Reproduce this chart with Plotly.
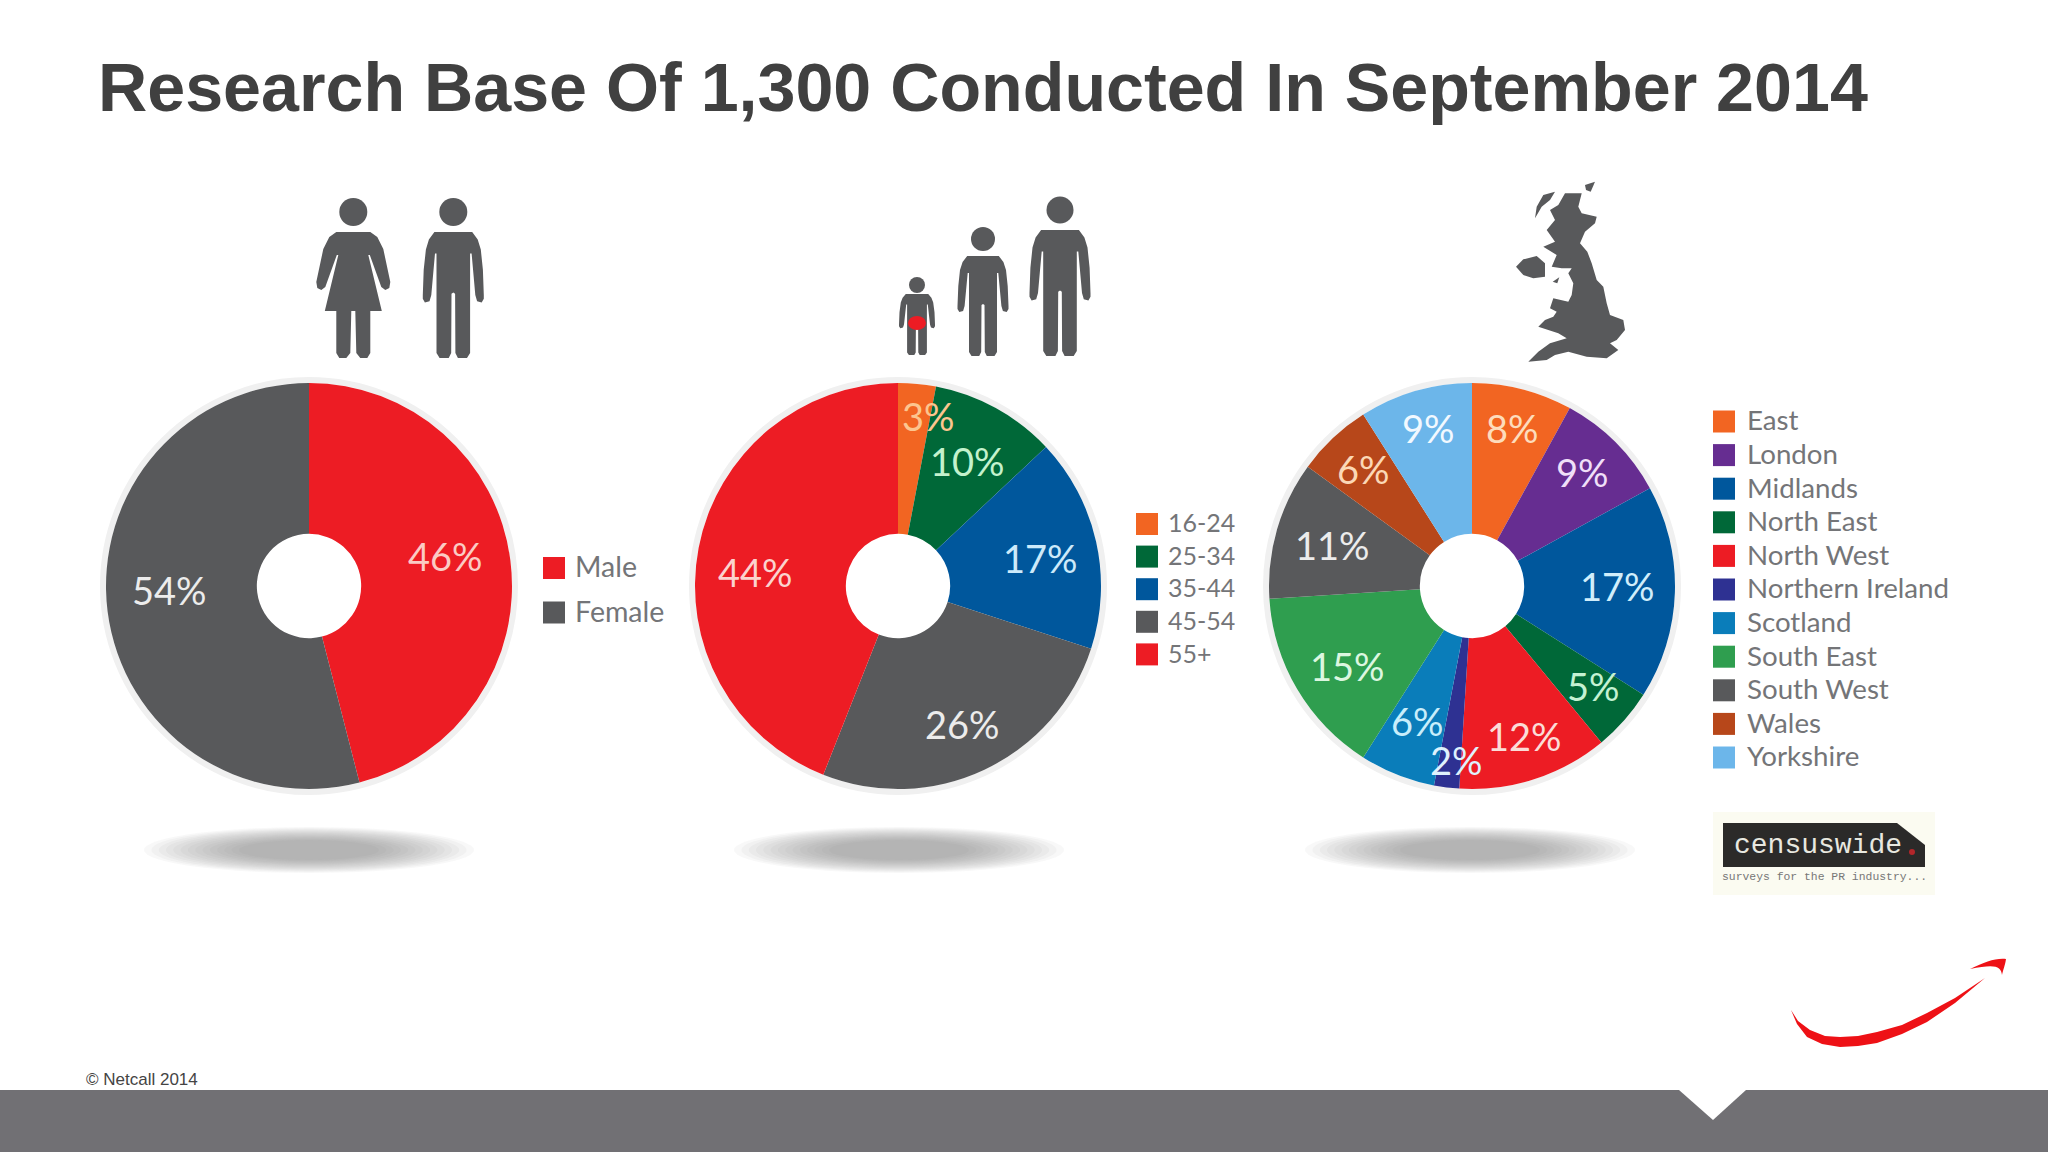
import plotly.graph_objects as go

gender_names = ["Male", "Female"]
gender_values = [46, 54]
gender_colors = ["#ed1c24", "#58595b"]

age_names = ["16-24", "25-34", "35-44", "45-54", "55+"]
age_values = [3, 10, 17, 26, 44]
age_colors = ["#f26522", "#006838", "#00579c", "#58595b", "#ed1c24"]

region_names = ["East", "London", "Midlands", "North East", "North West", "Northern Ireland",
                "Scotland", "South East", "South West", "Wales", "Yorkshire"]
region_values = [8, 9, 17, 5, 12, 2, 6, 15, 11, 6, 9]
region_colors = ["#f26522", "#662d91", "#00579c", "#006838", "#ed1c24", "#2e3192",
                 "#0a7dba", "#2f9e4f", "#58595b", "#b7471a", "#6cb6ea"]

# label placement and tint, one list per pie
gender_lab_x = [445, 169]
gender_lab_y = [556, 590]
gender_lab_col = ["#fbcbc4", "#ececec"]
age_lab_x = [928, 967, 1040, 962, 755]
age_lab_y = [416, 461, 558, 724, 572]
age_lab_col = ["#fcc58f", "#c4f2cd", "#cdeafa", "#ececec", "#fbd3ce"]
region_lab_x = [1512, 1582, 1617, 1593, 1524, 1456, 1417, 1347, 1332, 1363, 1428]
region_lab_y = [428, 472, 586, 686, 736, 760, 721, 666, 545, 469, 428]
region_lab_col = ["#fddcbc", "#efdff8", "#d0eefb", "#c4f2d3", "#fbdcd7", "#dff1fd",
                  "#c8eefb", "#dcf7e0", "#ececec", "#fbd8b6", "#f2f9ff"]

TITLE = "Research Base Of 1,300 Conducted In September 2014"
FOOT = "© Netcall 2014"
GREY = "#58595b"
LEG_TXT = "#747578"
R = 203
CY = 586
HOLE = 0.257

fig = go.Figure()


def add_pie(cx, names, values, colors):
    fig.add_trace(go.Pie(labels=names, values=values, sort=False, direction="clockwise",
                         rotation=0, hole=HOLE, textinfo="none", showlegend=False,
                         marker=dict(colors=colors, line=dict(width=0)),
                         domain=dict(x=[(cx - R) / 2048, (cx + R) / 2048],
                                     y=[1 - (CY + R) / 1152, 1 - (CY - R) / 1152])))
    # pale ring round the pie
    fig.add_shape(type="circle", xref="x", yref="y", x0=cx - R - 3, x1=cx + R + 3,
                  y0=CY - R - 3, y1=CY + R + 3, line=dict(color="#f0f0f0", width=6),
                  fillcolor="rgba(0,0,0,0)", layer="below")


def add_legend(sw_x, txt_x, y0, step, names, colors, font_size, size=22):
    ys = [y0 + i * step for i in range(len(names))]
    fig.add_trace(go.Scatter(x=[sw_x] * len(names), y=ys, mode="markers", showlegend=False,
                             marker=dict(symbol="square", size=size, color=colors, line=dict(width=0))))
    fig.add_trace(go.Scatter(x=[txt_x] * len(names), y=[y + 2 for y in ys], mode="text", text=names,
                             textposition="middle right", showlegend=False,
                             textfont=dict(family="Lato", size=font_size, color=LEG_TXT)))


def add_labels(xs, ys, values, cols):
    for x, y, v, c in zip(xs, ys, values, cols):
        fig.add_annotation(x=x, y=y, xref="x", yref="y", text=f"{v}%", showarrow=False,
                           xanchor="center", yanchor="middle",
                           font=dict(family="Lato", size=38, color=c))


def add_shadow(cx, cy=850):
    for i in range(14):
        t = i / 13
        rx = 165 - 95 * t
        ry = 23 - 13 * t
        fig.add_shape(type="circle", xref="x", yref="y", x0=cx - rx, x1=cx + rx, y0=cy - ry, y1=cy + ry,
                      fillcolor="#7c7c7c", opacity=0.05, line=dict(width=0), layer="below")


def path_of(points):
    return "M" + " L".join(f"{x:.1f},{y:.1f}" for x, y in points) + " Z"


def add_path(path, color):
    fig.add_shape(type="path", xref="x", yref="y", path=path, fillcolor=color,
                  line=dict(width=0), layer="below")


def add_head(cx, cy, r):
    fig.add_shape(type="circle", xref="x", yref="y", x0=cx - r, x1=cx + r, y0=cy - r, y1=cy + r,
                  fillcolor=GREY, line=dict(width=0), layer="below")


# right half of a standing figure, x in half widths, y in body heights
MAN = [(0.0, 0.0), (0.62, 0.0), (0.8, 0.06), (0.9, 0.14), (0.97, 0.3), (1.0, 0.5), (1.0, 0.53), (0.93, 0.56),
       (0.78, 0.55), (0.72, 0.5), (0.6, 0.17), (0.55, 0.17), (0.55, 0.96), (0.45, 1.0), (0.15, 1.0),
       (0.07, 0.96), (0.06, 0.49), (0.0, 0.48)]


def add_man(cx, top, h, hw, head_y, head_r):
    right = [(cx + x * hw, top + y * h) for x, y in MAN]
    left = [(cx - x * hw, top + y * h) for x, y in reversed(MAN)]
    add_path(path_of(right + left), GREY)
    add_head(cx, head_y, head_r)


def add_woman():
    cx = 353.3
    pts = [(17, 232), (24, 237), (30, 249), (37, 282), (36, 288), (32, 290), (28, 287), (16.5, 255), (15, 255),
           (28.5, 311), (17, 311), (17, 353), (14, 358), (7, 358), (3, 353), (2, 311)]
    right = [(cx + x, y) for x, y in pts]
    left = [(cx - x, y) for x, y in reversed(pts)]
    add_path(path_of(right + left), GREY)
    add_head(cx, 212, 14)


GB = [(195, 70), (245, 70), (235, 110), (245, 130), (290, 140), (285, 160), (255, 185), (240, 220), (262, 245),
      (275, 280), (290, 330), (310, 350), (320, 400), (330, 435), (370, 450), (375, 480), (350, 510), (330, 520),
      (355, 540), (320, 565), (260, 560), (205, 545), (165, 555), (140, 570), (85, 575), (115, 545), (150, 520),
      (200, 505), (175, 490), (115, 470), (135, 450), (160, 440), (170, 425), (150, 415), (160, 385), (205, 395),
      (215, 375), (220, 340), (205, 310), (215, 295), (185, 295), (155, 290), (170, 255), (130, 230), (165, 215),
      (140, 180), (165, 150), (150, 120), (175, 105)]
IRELAND = [(48, 290), (70, 268), (110, 258), (135, 280), (135, 320), (100, 325), (70, 315)]
HEBRIDES = [(130, 75), (165, 65), (150, 90), (125, 110), (105, 145), (110, 110)]
ISLE = [(158, 335), (178, 322), (172, 340)]
SHETLAND = [(255, 45), (285, 35), (272, 65), (258, 60)]


def add_map(pts):
    add_path(path_of([(1500 + x / 3, 170 + y / 3) for x, y in pts]), GREY)


add_pie(309, gender_names, gender_values, gender_colors)
add_pie(898, age_names, age_values, age_colors)
add_pie(1472, region_names, region_values, region_colors)

add_legend(554, 575, 568, 44.5, gender_names, gender_colors, 28.5)
add_legend(1147, 1168, 524, 32.6, age_names, age_colors, 25)
add_legend(1724, 1747, 421.5, 33.6, region_names, region_colors, 27.7)

add_labels(gender_lab_x, gender_lab_y, gender_values, gender_lab_col)
add_labels(age_lab_x, age_lab_y, age_values, age_lab_col)
add_labels(region_lab_x, region_lab_y, region_values, region_lab_col)

for c in [309, 899, 1470]:
    add_shadow(c)

# icons above the pies
add_woman()
add_man(453.3, 232, 126, 30.5, 212, 14)
add_man(917, 294, 61, 18, 285, 8)
add_man(983, 256, 100, 25.5, 239, 12)
add_man(1060, 230, 126, 30.5, 210, 13.5)
fig.add_shape(type="circle", xref="x", yref="y", x0=908, x1=926, y0=316, y1=330,
              fillcolor="#ed1c24", line=dict(width=0), layer="below")
for part in [GB, IRELAND, HEBRIDES, ISLE, SHETLAND]:
    add_map(part)

# censuswide logo
fig.add_shape(type="rect", xref="x", yref="y", x0=1713, x1=1935, y0=812, y1=895,
              fillcolor="#fbfbf1", line=dict(width=0), layer="below")
add_path("M1723,823 L1897,823 L1925,845 L1925,867 L1723,867 Z", "#2b2a29")
fig.add_shape(type="circle", xref="x", yref="y", x0=1909, x1=1915, y0=849, y1=855,
              fillcolor="#b3262a", line=dict(width=0), layer="below")
fig.add_annotation(x=1818, y=845, xref="x", yref="y", text="censuswide", showarrow=False,
                   font=dict(family="Liberation Mono", size=28, color="#e8e8e0"))
fig.add_annotation(x=1824, y=877, xref="x", yref="y", text="surveys for the PR industry...", showarrow=False,
                   font=dict(family="Liberation Mono", size=11.4, color="#777777"))

# red swoosh
SWOOSH = [(1791, 1010), (1797, 1024), (1807, 1037), (1822, 1044), (1840, 1047), (1858, 1046), (1877, 1043),
          (1902, 1034), (1927, 1022), (1955, 1003), (1985, 978), (1955, 998), (1927, 1013), (1902, 1025),
          (1877, 1032), (1858, 1036), (1840, 1037), (1825, 1036), (1810, 1030), (1798, 1021)]
add_path(path_of(SWOOSH), "#ee1116")
add_path("M1970,969 C1985,962 1995,958 2006,959 C2005,966 2003,970 2002,975 "
         "C2001,966 1995,964 1970,969 Z", "#ee1116")

# footer band with its notch
fig.add_shape(type="rect", xref="x", yref="y", x0=0, x1=2048, y0=1090, y1=1152,
              fillcolor="#717074", line=dict(width=0), layer="below")
add_path("M1679,1090 L1746,1090 L1713,1120 Z", "#ffffff")

fig.add_annotation(x=95.5, y=87, xref="x", yref="y", text=f"<b>{TITLE}</b>", showarrow=False,
                   xanchor="left", yanchor="middle",
                   font=dict(family="Liberation Sans", size=68.2, color="#404040"))
fig.add_annotation(x=84, y=1079, xref="x", yref="y", text=FOOT, showarrow=False,
                   xanchor="left", yanchor="middle",
                   font=dict(family="Liberation Sans", size=17, color="#444444"))

fig.update_layout(width=2048, height=1152, margin=dict(l=0, r=0, t=0, b=0),
                  paper_bgcolor="#ffffff", plot_bgcolor="rgba(0,0,0,0)", showlegend=False,
                  xaxis=dict(range=[0, 2048], visible=False, fixedrange=True),
                  yaxis=dict(range=[1152, 0], visible=False, fixedrange=True))
fig.write_html("out.html", config=dict(displayModeBar=False), post_script="document.body.style.margin='0';")
